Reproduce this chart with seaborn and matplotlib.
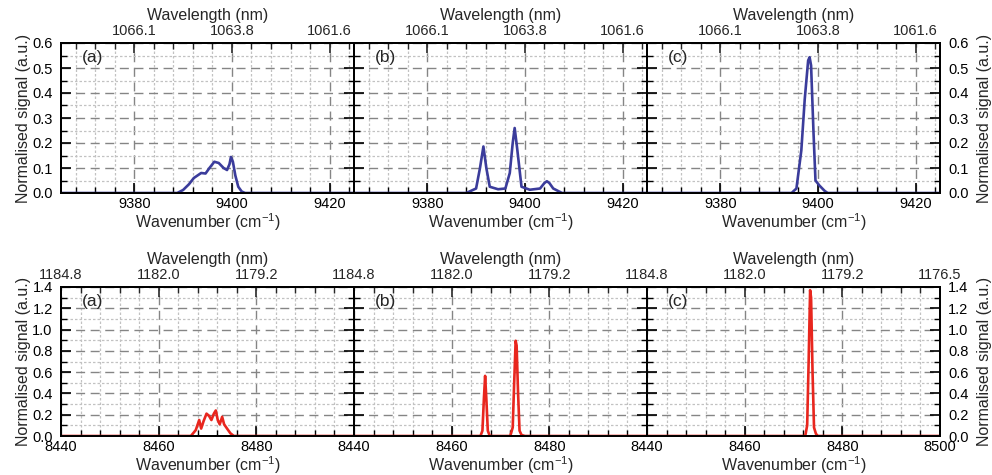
import numpy as np
import pandas as pd
import matplotlib
matplotlib.use("Agg")
import matplotlib.pyplot as plt
from matplotlib.ticker import MultipleLocator, FixedLocator, FixedFormatter, FormatStrFormatter
import seaborn as sns

sns.set_style("white")
plt.rcParams['font.family'] = ['Liberation Sans', 'DejaVu Sans']
plt.rcParams['mathtext.fontset'] = 'custom'
plt.rcParams['mathtext.rm'] = 'Liberation Sans'
plt.rcParams['mathtext.it'] = 'Liberation Sans'

# ---------------- data ----------------
panel_letters = ["(a)", "(b)", "(c)"]

# top row (blue), wavenumber in cm^-1
top_a_wn = [9365, 9388.8, 9390.0, 9391.2, 9392.2, 9393.7, 9394.6, 9395.4, 9396.4, 9397.3,
            9398.3, 9399.0, 9399.5, 9399.8, 9400.2, 9400.7, 9401.3, 9402.0, 9402.7, 9425]
top_a_sig = [0, 0, 0.012, 0.035, 0.06, 0.08, 0.078, 0.10, 0.125, 0.12,
             0.10, 0.092, 0.115, 0.144, 0.125, 0.07, 0.025, 0.006, 0, 0]

top_b_wn = [9365, 9388.0, 9390.0, 9390.8, 9391.5, 9392.1, 9392.8, 9394.5, 9396.0, 9396.9,
            9397.5, 9397.9, 9398.4, 9399.3, 9401.0, 9403.1, 9404.0, 9404.5, 9405.0, 9405.8,
            9407.6, 9425]
top_b_sig = [0, 0, 0.018, 0.10, 0.186, 0.10, 0.025, 0.015, 0.018, 0.08,
             0.20, 0.26, 0.18, 0.025, 0.013, 0.018, 0.04, 0.047, 0.04, 0.018,
             0, 0]

top_c_wn = [9365, 9394.6, 9395.6, 9396.6, 9397.3, 9398.0, 9398.3, 9398.6, 9399.1, 9399.5,
            9400.3, 9401.4, 9402.0, 9425]
top_c_sig = [0, 0, 0.018, 0.17, 0.375, 0.53, 0.543, 0.51, 0.24, 0.05,
             0.03, 0.008, 0, 0]

# bottom row (red)
bot_a_wn = [8440, 8466.6, 8467.6, 8468.3, 8468.7, 8469.2, 8469.8, 8470.3, 8470.8, 8471.3,
            8471.7, 8472.1, 8472.5, 8473.0, 8473.4, 8474.0, 8474.7, 8475.4, 8500]
bot_a_sig = [0, 0, 0.056, 0.15, 0.07, 0.14, 0.21, 0.19, 0.15, 0.21,
             0.24, 0.15, 0.11, 0.18, 0.11, 0.07, 0.025, 0, 0]

bot_b_wn = [8440, 8465.9, 8466.3, 8466.6, 8466.85, 8467.1, 8467.4, 8467.8, 8472.0, 8472.5,
            8472.8, 8473.1, 8473.3, 8473.6, 8473.9, 8474.3, 8475.0, 8500]
bot_b_sig = [0, 0, 0.05, 0.35, 0.565, 0.35, 0.05, 0, 0, 0.08,
             0.5, 0.895, 0.85, 0.4, 0.05, 0.01, 0, 0]

bot_c_wn = [8440, 8472.4, 8472.8, 8473.1, 8473.4, 8473.6, 8473.9, 8474.2, 8474.6, 8475.0, 8500]
bot_c_sig = [0, 0, 0.1, 0.7, 1.37, 1.3, 0.6, 0.08, 0.02, 0, 0]

top_xlim = (9365, 9425)
top_xticks = [9380, 9400, 9420]
top_wl_labels = ["1066.1", "1063.8", "1061.6"]
top_ylim = (0, 0.6)

bot_xlim = (8440, 8500)
bot_xticks = [8440, 8460, 8480, 8500]
bot_wl_labels = ["1184.8", "1182.0", "1179.2", "1176.5"]
bot_ylim = (0, 1.4)

BLUE = "#3b3c9b"
RED = "#e8261e"

# ---------------- figure ----------------
fig = plt.figure(figsize=(9.92, 4.75), dpi=100)

W, H = 992, 475
left_px = 61
panel_w = 293
rows = [
    dict(top=43, bottom=193, xlim=top_xlim, xticks=top_xticks, wl=top_wl_labels, ylim=top_ylim,
         ymaj=0.1, ymin=0.05, color=BLUE,
         data=[(top_a_wn, top_a_sig), (top_b_wn, top_b_sig), (top_c_wn, top_c_sig)]),
    dict(top=287, bottom=436, xlim=bot_xlim, xticks=bot_xticks, wl=bot_wl_labels, ylim=bot_ylim,
         ymaj=0.2, ymin=0.1, color=RED,
         data=[(bot_a_wn, bot_a_sig), (bot_b_wn, bot_b_sig), (bot_c_wn, bot_c_sig)]),
]

TICK_FS = 10.5
LABEL_FS = 11.5

for row in rows:
    for i, (wn, sig) in enumerate(row["data"]):
        x0 = (left_px + i * panel_w) / W
        y0 = 1 - row["bottom"] / H
        ax = fig.add_axes([x0, y0, panel_w / W, (row["bottom"] - row["top"]) / H])
        df = pd.DataFrame({"wn": wn, "sig": sig})
        sns.lineplot(data=df, x="wn", y="sig", ax=ax, color=row["color"], lw=1.9,
                     estimator=None, zorder=3)
        ax.set_xlim(row["xlim"])
        ax.set_ylim(row["ylim"])
        ax.set_axisbelow(True)

        # x ticks
        xt = row["xticks"]
        ax.xaxis.set_major_locator(FixedLocator(xt))
        ax.xaxis.set_minor_locator(MultipleLocator(4))
        if len(xt) == 4 and i < 2:
            ax.xaxis.set_major_formatter(FixedFormatter([str(v) for v in xt[:3]] + [""]))
        else:
            ax.xaxis.set_major_formatter(FixedFormatter([str(v) for v in xt]))
        # y ticks
        ax.yaxis.set_major_locator(MultipleLocator(row["ymaj"]))
        ax.yaxis.set_minor_locator(MultipleLocator(row["ymin"]))
        ax.yaxis.set_major_formatter(FormatStrFormatter("%.1f"))

        ax.grid(which="major", color="#858585", ls=(0, (6.5, 4)), lw=1.0)
        ax.grid(which="minor", color="#c2c2c2", ls=(0, (2, 1.6)), lw=0.9)

        ax.tick_params(axis="both", which="both", direction="in", colors="black",
                       labelsize=TICK_FS, top=False, bottom=True, left=True, right=True)
        ax.tick_params(which="major", length=7, width=1.2)
        ax.tick_params(which="minor", length=4, width=1.0)
        ax.tick_params(axis="x", pad=3)
        ax.tick_params(axis="y", pad=6)

        if i == 0:
            ax.tick_params(axis="y", labelleft=True, labelright=False)
            ax.set_ylabel("Normalised signal (a.u.)", fontsize=LABEL_FS, labelpad=1)
        elif i == 2:
            ax.tick_params(axis="y", labelleft=False, labelright=True)
            ax.yaxis.set_label_position("right")
            ax.set_ylabel("Normalised signal (a.u.)", fontsize=LABEL_FS, labelpad=6)
        else:
            ax.tick_params(axis="y", labelleft=False, labelright=False)
            ax.set_ylabel("")

        ax.set_xlabel(r"Wavenumber (cm$^{\mathregular{-1}}$)", fontsize=LABEL_FS, labelpad=0)

        for sp in ax.spines.values():
            sp.set_visible(True)
            sp.set_color("black")
            sp.set_linewidth(1.4)

        ax.text(0.072, 0.905, panel_letters[i], transform=ax.transAxes,
                fontsize=12.5, ha="left", va="center", zorder=5)

        # top wavelength axis
        ax2 = ax.twiny()
        ax2.set_xlim(row["xlim"])
        ax2.xaxis.set_major_locator(FixedLocator(xt))
        ax2.xaxis.set_minor_locator(MultipleLocator(4))
        wl = row["wl"]
        if len(xt) == 4 and i < 2:
            ax2.xaxis.set_major_formatter(FixedFormatter(wl[:3] + [""]))
        else:
            ax2.xaxis.set_major_formatter(FixedFormatter(wl))
        ax2.tick_params(axis="x", which="both", direction="in", labelsize=TICK_FS, pad=3.5)
        ax2.tick_params(which="major", length=7, width=1.2)
        ax2.tick_params(which="minor", length=4, width=1.0)
        ax2.set_xlabel("Wavelength (nm)", fontsize=LABEL_FS, labelpad=3)
        ax2.grid(False)
        for sp in ax2.spines.values():
            sp.set_linewidth(1.4)
            sp.set_color("black")

fig.savefig("out.png", dpi=100)
